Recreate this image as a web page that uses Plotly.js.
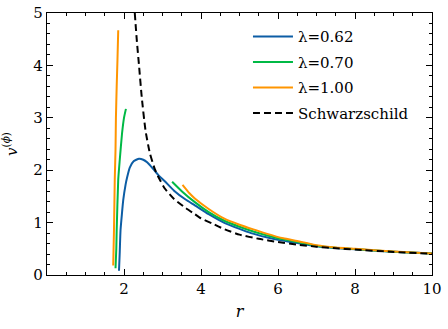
<!DOCTYPE html>
<html>
<head>
<meta charset="utf-8">
<script src="https://cdn.plot.ly/plotly-3.0.1.min.js"></script>
<style>
  html, body { margin: 0; padding: 0; background: #fff; }
  #chart { width: 448px; height: 329px; }
</style>
</head>
<body>
<div id="chart"></div>
<script>
// ── Data ──────────────────────────────────────────────────────────────────────

// λ = 0.62 (single branch)
const rBlue = [1.87, 1.89, 1.91, 1.95, 1.98, 2.04, 2.08, 2.15, 2.25, 2.39, 2.5, 2.6, 2.75, 2.9, 3.06, 3.3, 3.6, 3.84, 4.2, 4.62, 5.0, 5.3, 5.7, 6.0, 6.5, 7.0, 7.5, 8.0, 9.0, 10.0];
const vBlue = [0.08, 0.45, 0.86, 1.2, 1.43, 1.72, 1.86, 2.05, 2.17, 2.22, 2.2, 2.15, 2.03, 1.9, 1.79, 1.61, 1.44, 1.33, 1.16, 0.99, 0.88, 0.8, 0.72, 0.67, 0.61, 0.55, 0.515, 0.49, 0.445, 0.41];

// λ = 0.70 (inner + outer branch)
const rGreenIn = [1.78, 1.80, 1.81, 1.85, 1.89, 1.95, 2.0, 2.05];
const vGreenIn = [0.13, 0.5, 0.86, 1.82, 2.2, 2.71, 3.0, 3.17];
const rGreenOut = [3.25, 3.5, 3.84, 4.2, 4.62, 5.0, 5.36, 5.7, 6.14, 6.5, 7.0, 7.5, 8.0, 9.0, 10.0];
const vGreenOut = [1.78, 1.6, 1.39, 1.2, 1.03, 0.92, 0.83, 0.76, 0.68, 0.63, 0.56, 0.52, 0.495, 0.445, 0.41];

// λ = 1.00 (inner + outer branch)
const rOrangeIn = [1.72, 1.74, 1.76, 1.78, 1.79, 1.81, 1.83, 1.85];
const vOrangeIn = [0.18, 0.86, 1.82, 2.4, 3.0, 3.6, 4.1, 4.67];
const rOrangeOut = [3.52, 3.7, 3.84, 4.2, 4.62, 5.0, 5.36, 5.7, 6.14, 6.5, 7.0, 7.5, 8.0, 9.0, 10.0];
const vOrangeOut = [1.72, 1.56, 1.46, 1.26, 1.07, 0.96, 0.87, 0.79, 0.7, 0.65, 0.57, 0.525, 0.5, 0.45, 0.41];

// Schwarzschild
const rSchw = [2.28, 2.33, 2.39, 2.46, 2.56, 2.67, 2.8, 2.9, 3.06, 3.3, 3.6, 3.84, 4.0, 4.3, 4.62, 5.0, 5.5, 6.0, 6.5, 7.0, 7.5, 8.0, 9.0, 10.0];
const vSchw = [5.0, 4.5, 4.0, 3.4, 2.75, 2.33, 2.02, 1.86, 1.65, 1.45, 1.28, 1.16, 1.08, 0.98, 0.87, 0.77, 0.69, 0.63, 0.58, 0.54, 0.51, 0.485, 0.44, 0.405];

const xTicks = [2, 4, 6, 8, 10];
const yTicks = [0, 1, 2, 3, 4, 5];

// ── Traces ────────────────────────────────────────────────────────────────────

const BLUE = "#0C5DA5", GREEN = "#00B945", ORANGE = "#FF9500";
const SERIF = "DejaVu Serif";

function line(x, y, color, name, group, show, dash) {
  return {
    type: "scatter", mode: "lines", x, y, name,
    legendgroup: group, showlegend: show,
    line: { color, width: 2, shape: "spline", smoothing: 0.5, dash: dash || "solid" },
    hoverinfo: "skip",
  };
}

const traces = [
  line(rBlue, vBlue, BLUE, "λ=0.62", "a", true),
  line(rGreenIn, vGreenIn, GREEN, "λ=0.70", "b", true),
  line(rGreenOut, vGreenOut, GREEN, "λ=0.70", "b", false),
  line(rOrangeIn, vOrangeIn, ORANGE, "λ=1.00", "c", true),
  line(rOrangeOut, vOrangeOut, ORANGE, "λ=1.00", "c", false),
  line(rSchw, vSchw, "#000000", "Schwarzschild", "d", true, "7px,4px"),
];

const axisCommon = {
  showline: true, mirror: "allticks", linecolor: "#000", linewidth: 1.2,
  ticks: "inside", ticklen: 6, tickwidth: 1, tickcolor: "#000",
  showgrid: false, zeroline: false,
  tickfont: { family: SERIF, size: 15, color: "#000" },
};

const layout = {
  width: 448, height: 329,
  paper_bgcolor: "#fff", plot_bgcolor: "#fff",
  font: { family: SERIF, color: "#000", size: 15 },
  margin: { l: 47, r: 16, t: 13, b: 54 },
  xaxis: {
    ...axisCommon,
    range: [0, 10], tickvals: xTicks, ticktext: xTicks.map(String),
    minor: { dtick: 0.5, tick0: 0, ticks: "inside", ticklen: 3, tickcolor: "#000" },
    title: { text: "<i>r</i>", font: { family: SERIF, size: 16 }, standoff: 8 },
  },
  yaxis: {
    ...axisCommon,
    range: [0, 5], tickvals: yTicks, ticktext: yTicks.map(String),
    minor: { dtick: 0.2, tick0: 0, ticks: "inside", ticklen: 3, tickcolor: "#000" },
    title: { text: "<i>v</i><sup>(<i>ϕ</i>)</sup>", font: { family: SERIF, size: 15 }, standoff: 12 },
  },
  showlegend: true,
  legend: {
    x: 0.522, xanchor: "left", y: 0.972, yanchor: "top",
    bgcolor: "rgba(0,0,0,0)", borderwidth: 0, itemwidth: 40,
    font: { family: SERIF, size: 15 }, tracegroupgap: 3, traceorder: "grouped",
  },
};

Plotly.newPlot("chart", traces, layout, { displayModeBar: false, staticPlot: true });
</script>
</body>
</html>
